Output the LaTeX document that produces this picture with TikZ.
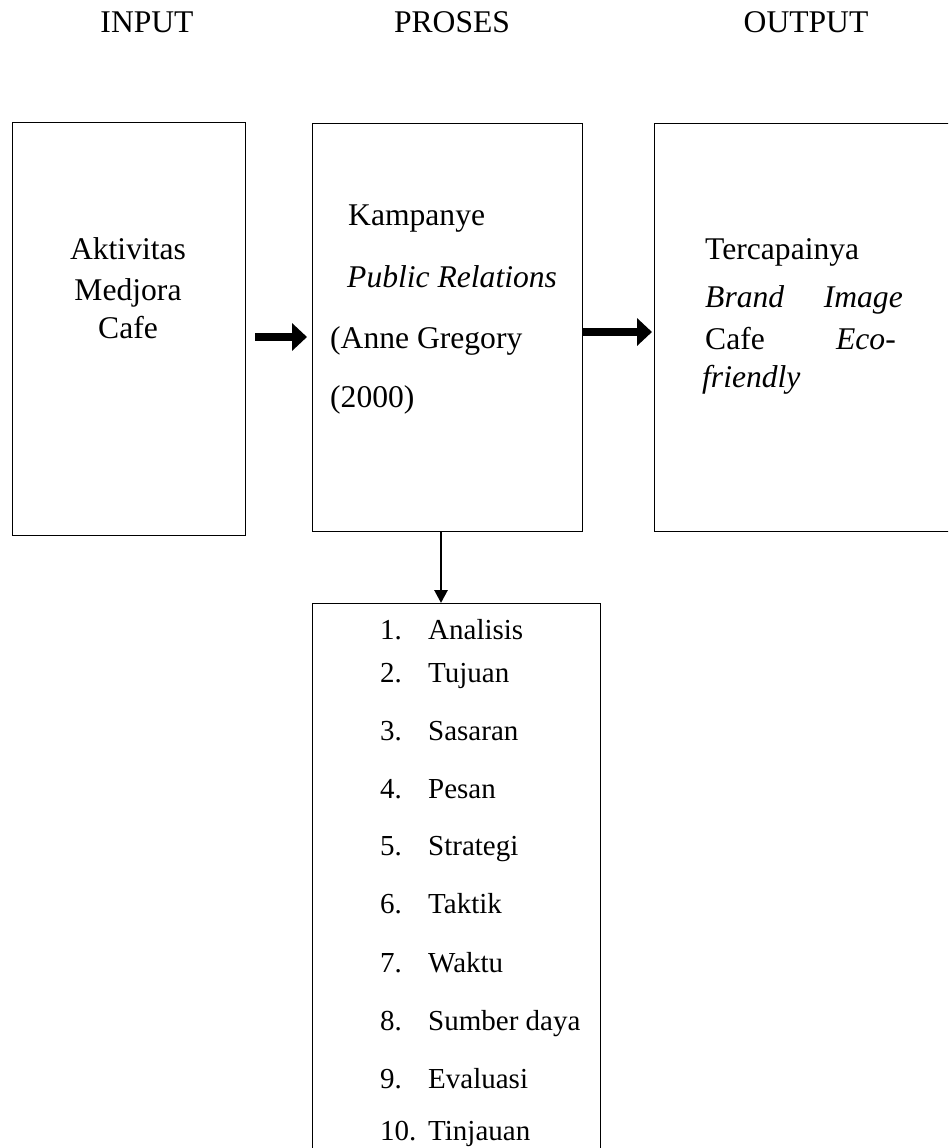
\documentclass[tikz,border=0pt]{standalone}
\usepackage{fontspec}
\setmainfont{Liberation Serif}
\usetikzlibrary{arrows.meta}
\begin{document}
\begin{tikzpicture}[x=1pt,y=-1pt,
  box/.style={draw=black, line width=1.3pt, inner sep=0pt, anchor=north west},
  txt/.style={inner sep=0pt, anchor=base west, font=\fontsize{31.6}{38}\selectfont},
  ltxt/.style={inner sep=0pt, anchor=base west, font=\fontsize{29}{35}\selectfont},
  rtxt/.style={inner sep=0pt, anchor=base east, font=\fontsize{31.6}{38}\selectfont},
  ctxt/.style={inner sep=0pt, anchor=base, font=\fontsize{31.6}{38}\selectfont},
  bigarrow/.style={line width=8pt, -{Triangle[length=15pt,width=27pt]}},
  thinarrow/.style={line width=2.8pt, -{Triangle[length=13pt,width=13pt]}}]
\clip (0,0) rectangle (948,1148);
\fill[white] (0,0) rectangle (948,1148);

% titles
\node[ctxt] (t1) at (147,33) {INPUT};
\node[ctxt] (t2) at (452,33) {PROSES};
\node[ctxt] (t3) at (806,33) {OUTPUT};

% boxes
\node[box, minimum width=233pt, minimum height=413pt] (input) at (12,122) {};
\node[box, minimum width=270pt, minimum height=408pt] (proc) at (312,123) {};
\node[box, minimum width=330pt, minimum height=408pt] (output) at (654,123) {};
\node[box, minimum width=288pt, minimum height=580pt] (list) at (312,603) {};

% input text
\node[ctxt] (i1) at (128,259) {Aktivitas};
\node[ctxt] (i2) at (128,300) {Medjora};
\node[ctxt] (i3) at (128,338) {Cafe};

% process text
\node[txt] (p1) at (348,225) {Kampanye};
\node[txt] (p2) at (347,287) {\itshape Public Relations};
\node[txt] (p3) at (330,348) {(Anne Gregory};
\node[txt] (p4) at (330,407) {(2000)};

% output text
\node[txt] (o1) at (705,259) {Tercapainya};
\node[txt] (o2a) at (705,307) {\itshape Brand};
\node[rtxt] (o2b) at (903,307) {\itshape Image};
\node[txt] (o3a) at (705,349) {Cafe};
\node[rtxt] (o3b) at (896,349) {\itshape Eco-};
\node[txt] (o4) at (702,387) {\itshape friendly};

% list
\node[ltxt] (n1) at (380,639) {1.};   \node[ltxt] (l1) at (428,639) {Analisis};
\node[ltxt] (n2) at (380,682) {2.};   \node[ltxt] (l2) at (428,682) {Tujuan};
\node[ltxt] (n3) at (380,740) {3.};   \node[ltxt] (l3) at (428,740) {Sasaran};
\node[ltxt] (n4) at (380,798) {4.};   \node[ltxt] (l4) at (428,798) {Pesan};
\node[ltxt] (n5) at (380,855) {5.};   \node[ltxt] (l5) at (428,855) {Strategi};
\node[ltxt] (n6) at (380,913) {6.};   \node[ltxt] (l6) at (428,913) {Taktik};
\node[ltxt] (n7) at (380,972) {7.};   \node[ltxt] (l7) at (428,972) {Waktu};
\node[ltxt] (n8) at (380,1030) {8.};  \node[ltxt] (l8) at (428,1030) {Sumber daya};
\node[ltxt] (n9) at (380,1088) {9.};  \node[ltxt] (l9) at (428,1088) {Evaluasi};
\node[ltxt] (n10) at (380,1140) {10.}; \node[ltxt] (l10) at (428,1140) {Tinjauan};

% connectors
\coordinate (a1) at (0,337);
\coordinate (a2) at (0,332);
\coordinate (a3) at (441,0);
\draw[bigarrow, shorten <=9pt, shorten >=5pt] (input.east |- a1) -- (proc.west |- a1);
\draw[bigarrow, shorten >=2pt] (proc.east |- a2) -- (output.west |- a2);
\draw[thinarrow] (proc.south -| a3) -- (list.north -| a3);
\end{tikzpicture}
\end{document}
